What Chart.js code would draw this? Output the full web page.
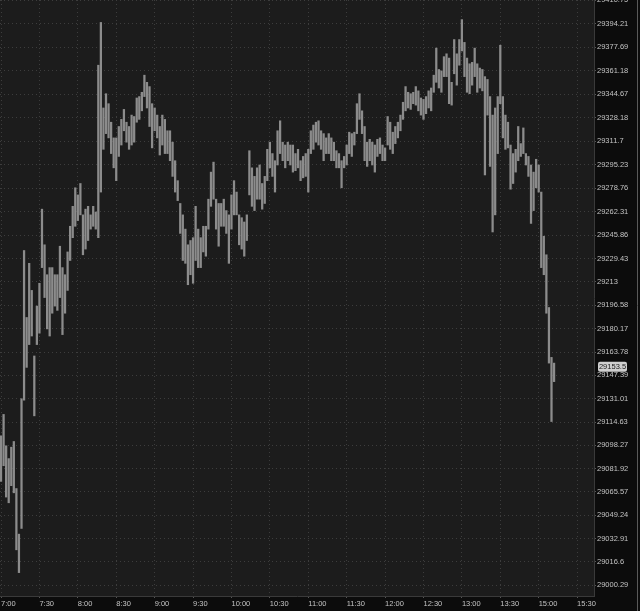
<!DOCTYPE html>
<html><head><meta charset="utf-8">
<script src="https://cdn.jsdelivr.net/npm/chart.js@4"></script>
<style>html,body{margin:0;padding:0;background:#0c0c0c;overflow:hidden}canvas{display:block}</style>
</head><body>
<canvas id="c" width="640" height="611"></canvas>
<script>
// time-axis labels (one every 15 two-minute slots)
const timeLabels = ["7:00","7:30","8:00","8:30","9:00","9:30","10:00","10:30","11:00","11:30","12:00","12:30","13:00","13:30","15:00","15:30"];
const timeTickSlots = [0,15,30,45,60,75,90,105,120,135,150,165,180,195,210,225];
// price-axis tick values
const priceTicks = [29000.29,29016.6,29032.91,29049.24,29065.57,29081.92,29098.27,29114.63,29131.01,29147.39,29163.78,29180.17,29196.58,29213,29229.43,29245.86,29262.31,29278.76,29295.23,29311.7,29328.18,29344.67,29361.18,29377.69,29394.21,29410.75];
// bar highs (two-minute bars)
const high = [
29105,29120,29098,29089,29097,29101,29068,29036,29131,29235,
29188,29226,29207,29161,29196,29212,29264,29239,29218,29223,
29223,29218,29218,29238,29223,29218,29234,29252,29266,29279,
29274,29282,29260,29264,29266,29260,29266,29262,29365,29395,
29335,29345,29338,29325,29314,29314,29322,29327,29334,29325,
29322,29330,29329,29342,29343,29346,29358,29353,29350,29338,
29335,29330,29322,29330,29327,29319,29319,29311,29298,29284,
29268,29260,29250,29239,29242,29244,29266,29250,29244,29252,
29252,29271,29290,29297,29271,29268,29268,29271,29263,29260,
29274,29284,29276,29260,29258,29255,29260,29305,29293,29287,
29293,29295,29282,29287,29306,29311,29303,29298,29319,29326,
29311,29309,29311,29309,29309,29303,29306,29298,29301,29303,
29306,29319,29323,29325,29326,29319,29317,29314,29317,29314,
29311,29305,29303,29298,29301,29309,29318,29317,29318,29338,
29345,29333,29322,29311,29313,29311,29309,29313,29314,29309,
29307,29329,29325,29318,29322,29325,29330,29339,29350,29346,
29345,29346,29350,29347,29342,29341,29343,29347,29349,29358,
29377,29362,29361,29371,29373,29370,29353,29383,29373,29383,
29397,29381,29370,29366,29367,29377,29366,29363,29362,29357,
29355,29343,29330,29335,29343,29379,29343,29330,29325,29309,
29303,29306,29322,29310,29321,29303,29301,29295,29290,29299,
29295,29276,29245,29232,29195,29160,29156];
// bar lows
const low = [
29073,29084,29062,29058,29070,29065,29025,29009,29040,29130,
29153,29169,29175,29119,29169,29177,29223,29202,29180,29175,
29191,29196,29193,29202,29176,29191,29207,29228,29244,29252,
29256,29260,29232,29236,29242,29250,29252,29250,29244,29276,
29306,29317,29314,29303,29293,29284,29301,29309,29319,29311,
29306,29309,29311,29325,29327,29333,29343,29335,29322,29307,
29319,29314,29302,29309,29303,29303,29298,29287,29276,29270,
29247,29228,29226,29211,29218,29212,29228,29223,29223,29234,
29231,29250,29266,29271,29250,29238,29252,29252,29247,29226,
29250,29260,29260,29239,29236,29231,29242,29274,29266,29263,
29271,29271,29264,29268,29284,29293,29287,29276,29295,29303,
29298,29293,29298,29295,29290,29291,29293,29284,29286,29287,
29276,29303,29306,29311,29309,29306,29298,29303,29303,29298,
29298,29293,29293,29279,29293,29295,29303,29301,29309,29317,
29327,29317,29298,29294,29298,29295,29290,29301,29303,29298,
29298,29309,29306,29303,29310,29314,29319,29327,29333,29335,
29334,29338,29337,29333,29330,29327,29331,29335,29333,29346,
29353,29349,29346,29357,29357,29338,29337,29359,29351,29365,
29375,29357,29346,29345,29351,29357,29346,29349,29347,29288,
29330,29294,29248,29260,29303,29338,29314,29306,29307,29278,
29282,29290,29298,29301,29303,29295,29287,29254,29263,29279,
29276,29223,29218,29191,29156,29115,29143];
const lastPrice = 29153.5;

const bars = high.map((h, i) => ({x: i, y: [low[i], h]}));

const bgPlugin = {
  id: 'bg',
  beforeDraw(chart) {
    const {ctx, chartArea: a} = chart;
    ctx.save();
    ctx.fillStyle = '#0c0c0c';
    ctx.fillRect(0, 0, chart.width, chart.height);
    ctx.fillStyle = '#1c1c1c';
    ctx.fillRect(a.left, a.top, a.right - a.left, a.bottom - a.top);
    ctx.restore();
  },
  afterDraw(chart) {
    const {ctx, chartArea: a} = chart;
    const y = chart.scales.y.getPixelForValue(lastPrice);
    ctx.save();
    ctx.fillStyle = '#cfcfcf';
    const x0 = a.right + 4, w = 29, h = 10;
    ctx.beginPath();
    if (ctx.roundRect) ctx.roundRect(x0, y - h / 2, w, h, 2); else ctx.rect(x0, y - h / 2, w, h);
    ctx.fill();
    ctx.fillStyle = '#1a1a1a';
    ctx.font = '7.5px "Liberation Sans", Arial, sans-serif';
    ctx.textBaseline = 'middle';
    ctx.textAlign = 'center';
    ctx.fillText(String(lastPrice), x0 + w / 2, y + 0.5);
    ctx.strokeStyle = '#5a5a5a';
    ctx.lineWidth = 1;
    ctx.beginPath();
    ctx.moveTo(637.5, 0); ctx.lineTo(637.5, chart.height);
    ctx.stroke();
    ctx.restore();
  }
};

new Chart(document.getElementById('c'), {
  type: 'bar',
  data: {
    datasets: [{
      data: bars,
      backgroundColor: '#8c8c8c',
      borderWidth: 0,
      barThickness: 1.6,
      grouped: false
    }]
  },
  options: {
    responsive: false,
    animation: false,
    events: [],
    layout: {padding: 0},
    plugins: {legend: {display: false}, tooltip: {enabled: false}},
    scales: {
      x: {
        type: 'linear',
        min: -0.4,
        max: 231.6,
        offset: false,
        afterBuildTicks(s) { s.ticks = timeTickSlots.map(v => ({value: v})); },
        afterFit(s) { s.height = 15; s.paddingLeft = 0; s.paddingRight = 0; },
        grid: {offset: false, color: '#3d3d3d', lineWidth: 1, drawTicks: true, tickLength: 2, tickColor: '#555555'},
        border: {display: true, color: '#3a3a3a', dash: [1, 3]},
        ticks: {
          autoSkip: false, maxRotation: 0, minRotation: 0, align: 'start', padding: 1,
          color: '#c4c4c4', font: {family: '"Liberation Sans", Arial, sans-serif', size: 7.5},
          callback: (v, i) => timeLabels[i]
        }
      },
      y: {
        type: 'linear',
        position: 'right',
        min: 28992.6,
        max: 29410.75,
        afterBuildTicks(s) { s.ticks = priceTicks.map(v => ({value: v})); },
        afterFit(s) { s.width = 46; s.paddingTop = 0; s.paddingBottom = 0; },
        grid: {color: '#3d3d3d', lineWidth: 1, drawTicks: true, tickLength: 2, tickColor: '#555555'},
        border: {display: true, color: '#3a3a3a', dash: [1, 3]},
        ticks: {
          padding: 1, color: '#c4c4c4', font: {family: '"Liberation Sans", Arial, sans-serif', size: 7.5},
          callback: (v) => String(v)
        }
      }
    }
  },
  plugins: [bgPlugin]
});
</script>
</body></html>
